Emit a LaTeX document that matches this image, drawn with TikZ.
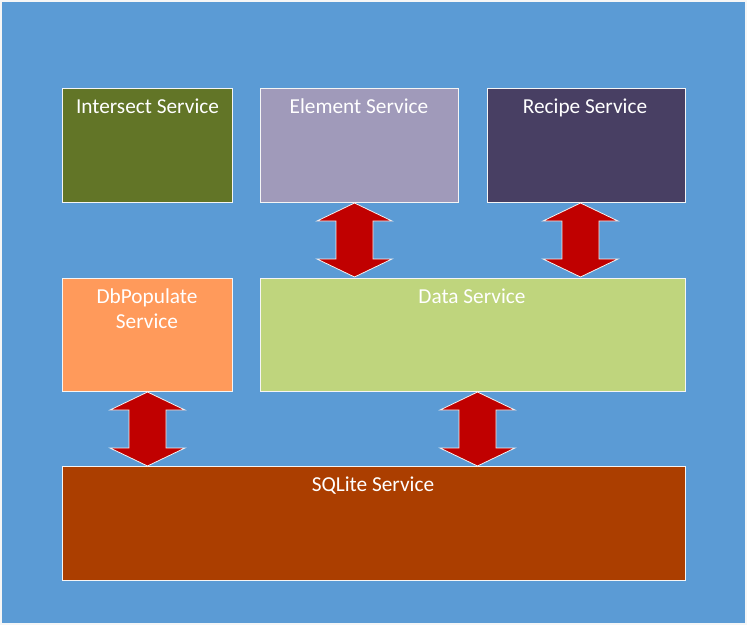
\documentclass[tikz,border=0pt]{standalone}
\usepackage{fontspec}
\setmainfont{Carlito}
\definecolor{bgblue}{HTML}{5B9BD5}
\definecolor{olive}{HTML}{627527}
\definecolor{lavender}{HTML}{A09ABA}
\definecolor{plum}{HTML}{483F63}
\definecolor{peach}{HTML}{FF9A5B}
\definecolor{lime}{HTML}{BFD57D}
\definecolor{rust}{HTML}{AB3E00}
\definecolor{arrowred}{HTML}{C00000}
\tikzset{
  svc/.style={draw=white!92!gray, line width=1pt, inner sep=0pt, anchor=north west},
  lbl/.style={text=white, font=\fontsize{21.3}{25}\selectfont, anchor=base, inner sep=0pt},
  dbl/.style={fill=arrowred, draw=white!90!gray, line width=0.8pt, line join=miter}
}
\newcommand\dblarrow[3]{% center x, top y, bottom y
  \fill[dbl] (#1,#2) -- (#1+37.5,#2+18) -- (#1+18.5,#2+18) -- (#1+18.5,#3-18) -- (#1+37.5,#3-18)
    -- (#1,#3) -- (#1-37.5,#3-18) -- (#1-18.5,#3-18) -- (#1-18.5,#2+18) -- (#1-37.5,#2+18) -- cycle;}
\begin{document}
\begin{tikzpicture}[x=1pt,y=-1pt]
\useasboundingbox (0,0) rectangle (747,625);
\fill[white!93!gray] (0,0) rectangle (747,625);
\fill[bgblue] (2,2) rectangle (745,623);
% boxes
\node[svc, fill=olive, minimum width=170pt, minimum height=114pt] (inter) at (62,88) {};
\node[svc, fill=lavender, minimum width=198pt, minimum height=114pt] (elem) at (260,88) {};
\node[svc, fill=plum, minimum width=198pt, minimum height=114pt] (recipe) at (487,88) {};
\node[svc, fill=peach, minimum width=170pt, minimum height=113pt] (dbpop) at (62,278) {};
\node[svc, fill=lime, minimum width=425pt, minimum height=113pt] (data) at (260,278) {};
\node[svc, fill=rust, minimum width=623pt, minimum height=114pt] (sqlite) at (62,466) {};
% labels
\node[lbl] (t1) at (147.5,113) {Intersect Service};
\node[lbl] (t2) at (359,113) {Element Service};
\node[lbl] (t3) at (585,113) {Recipe Service};
\node[lbl] (t4) at (147,303) {\setlength\tabcolsep{0pt}\begin{tabular}[t]{c}DbPopulate\\Service\end{tabular}};
\node[lbl] (t5) at (472,303) {Data Service};
\node[lbl] (t6) at (373,491) {SQLite Service};
% arrows
\dblarrow{354.5}{203}{277}
\dblarrow{580.5}{203}{277}
\dblarrow{147.5}{392}{466}
\dblarrow{477.5}{392}{466}
\end{tikzpicture}
\end{document}
